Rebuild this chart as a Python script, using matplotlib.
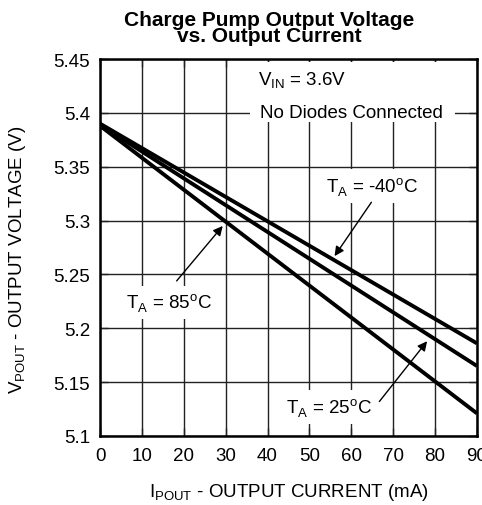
import matplotlib
matplotlib.use('Agg')
import matplotlib.pyplot as plt
from matplotlib.patches import Rectangle

plt.rcParams['font.family'] = ['Liberation Sans', 'DejaVu Sans']
plt.rcParams['mathtext.fontset'] = 'custom'
plt.rcParams['mathtext.rm'] = 'Liberation Sans'

# output current (mA) and output voltage (V)
current = [0, 90]
v_m40 = [5.390, 5.186]   # TA = -40C
v_25 = [5.389, 5.165]    # TA = 25C
v_85 = [5.388, 5.121]    # TA = 85C

xticks = [0, 10, 20, 30, 40, 50, 60, 70, 80, 90]
yticks = [5.1, 5.15, 5.2, 5.25, 5.3, 5.35, 5.4, 5.45]
ytick_labels = ['5.1', '5.15', '5.2', '5.25', '5.3', '5.35', '5.4', '5.45']

fs = 13.5

fig = plt.figure(figsize=(4.82, 5.06), dpi=100)
ax = fig.add_axes([0.2075, 0.1364, 0.782, 0.745])

ax.plot(current, v_m40, color='black', lw=2.8, solid_capstyle='butt')
ax.plot(current, v_25, color='black', lw=2.8, solid_capstyle='butt')
ax.plot(current, v_85, color='black', lw=2.8, solid_capstyle='butt')

ax.set_xlim(0, 90)
ax.set_ylim(5.1, 5.45)
ax.set_xticks(xticks)
ax.set_yticks(yticks)
ax.set_yticklabels(ytick_labels)
ax.grid(True, color='#222222', lw=1.0)
ax.tick_params(direction='in', length=6, width=1, labelsize=fs, top=True, right=True, color='#222222')
ax.tick_params(axis='x', pad=8)
ax.tick_params(axis='y', pad=7)
for s in ax.spines.values():
    s.set_linewidth(1.8)

ax.set_xlabel(r'I$_{\mathregular{POUT}}$ - OUTPUT CURRENT (mA)', fontsize=fs)
ax.xaxis.set_label_coords(0.5, -0.12)
ax.set_ylabel(r'V$_{\mathregular{POUT}}$ - OUTPUT VOLTAGE (V)', fontsize=fs)
ax.yaxis.set_label_coords(-0.19, 0.47)

fig.text(0.558, 0.978, 'Charge Pump Output Voltage\nvs. Output Current', ha='center', va='top',
         fontsize=15, fontweight='bold', linespacing=0.8)

# white panel behind the condition notes
ax.add_patch(Rectangle((0.398, 0.833), 0.545, 0.159, transform=ax.transAxes,
                       facecolor='white', edgecolor='none', zorder=1.8))
ax.text(60.0, 5.4, 'No Diodes Connected', ha='center', va='center', fontsize=fs, zorder=3)
ax.text(48.3, 5.431, r'V$_{\mathregular{IN}}$ = 3.6V', ha='center', va='center', fontsize=fs, zorder=3)

box = dict(facecolor='white', edgecolor='none', pad=4)
ax.text(65.0, 5.332, r'T$_{\mathregular{A}}$ = -40$^{\mathregular{o}}$C', ha='center', va='center',
        fontsize=fs, bbox=box)
ax.text(16.4, 5.224, r'T$_{\mathregular{A}}$ = 85$^{\mathregular{o}}$C', ha='center', va='center',
        fontsize=fs, bbox=box)
ax.text(54.8, 5.127, r'T$_{\mathregular{A}}$ = 25$^{\mathregular{o}}$C', ha='center', va='center',
        fontsize=fs, bbox=box)

arrow = dict(arrowstyle='-|>', color='black', lw=1.0, mutation_scale=14, shrinkA=0, shrinkB=0)
ax.annotate('', xy=(56.0, 5.267), xytext=(64.8, 5.317), arrowprops=arrow)
ax.annotate('', xy=(29.3, 5.295), xytext=(18.3, 5.244), arrowprops=arrow)
ax.annotate('', xy=(78.1, 5.188), xytext=(66.7, 5.132), arrowprops=arrow)

fig.savefig('out.png', dpi=100)
